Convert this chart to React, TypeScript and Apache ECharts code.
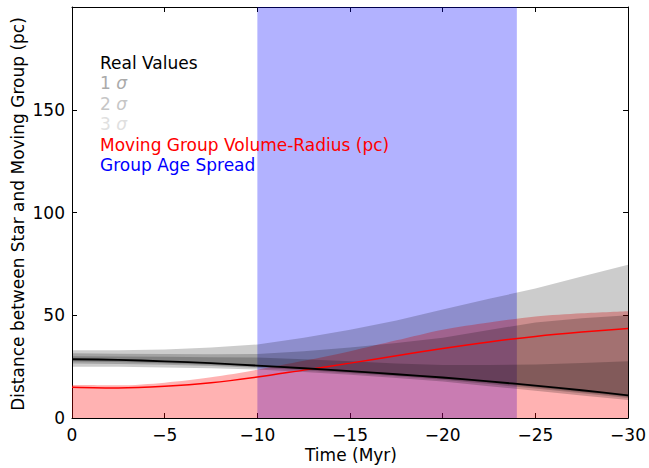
import React, { useEffect, useRef } from "react";
import * as echarts from "echarts";

const timeMyr = [0, -2.5, -5, -7.5, -10, -12.5, -15, -17.5, -20, -22.5, -25, -27.5, -30];
const realDistance = [28.6, 28.3, 27.6, 26.7, 25.5, 24.2, 22.8, 21.3, 19.7, 17.8, 15.8, 13.5, 11];
const sigma1Lower = [27.5, 27.2, 26.7, 25.9, 24.9, 23.7, 22.3, 20.8, 19.1, 17.1, 15, 12.7, 10.3];
const sigma1Upper = [30, 29.9, 29.8, 29.6, 29.4, 28.6, 27.6, 26.5, 25.8, 25.8, 26, 26.8, 27.6];
const sigma2Lower = [26.5, 26.3, 25.9, 25.3, 24.4, 23.2, 21.8, 20.3, 18.6, 16.5, 14.3, 12, 9.7];
const sigma2Upper = [31.5, 31.3, 31.2, 31, 31.2, 32.5, 34.3, 36.5, 39, 42.8, 46.5, 48.5, 50];
const sigma3Lower = [25, 24.9, 24.6, 24.2, 23.6, 22.4, 21, 19.5, 17.8, 15.5, 13.2, 11, 8.8];
const sigma3Upper = [33, 33, 33.3, 34.3, 35.8, 39, 43, 47.5, 52.8, 58, 63, 68.8, 74.6];
const groupRadius = [15, 14.6, 15.4, 17.1, 19.9, 23.3, 26.7, 30.3, 33.8, 37, 39.7, 41.8, 43.5];
const radiusFillTop = [16, 15.9, 17.2, 19.8, 23.5, 27.8, 32.5, 37.8, 43, 46.5, 49.4, 51, 52];
const ageSpread = [-10, -24];
const legendLines = ["Real Values", "1", "2", "3", "Moving Group Volume-Radius (pc)", "Group Age Spread"];

const FONT = "DejaVu Sans";

function pairs(ys: number[]) {
  return timeMyr.map((t, i) => [t, ys[i]]);
}

function bandSeries(name: string, lo: number[], up: number[]) {
  return {
    type: "custom",
    name,
    silent: true,
    clip: true,
    z: 1,
    data: [[timeMyr[0], up[0]]],
    renderItem: (_params: any, api: any) => {
      const pts: number[][] = [];
      for (let i = 0; i < timeMyr.length; i++) pts.push(api.coord([timeMyr[i], up[i]]));
      for (let i = timeMyr.length - 1; i >= 0; i--) pts.push(api.coord([timeMyr[i], lo[i]]));
      return {
        type: "polygon",
        shape: { points: pts },
        style: { fill: "rgba(0,0,0,0.2)" },
      };
    },
  };
}

export default function App() {
  const ref = useRef<HTMLDivElement>(null);
  useEffect(() => {
    if (!ref.current) return;
    const chart = echarts.init(ref.current, undefined, { renderer: "svg" });
    const axisCommon = {
      axisLine: { show: true, onZero: false, lineStyle: { color: "#000", width: 1 } },
      axisTick: { show: true, inside: true, length: 5, lineStyle: { color: "#000" } },
      splitLine: { show: false },
    };
    const labelStyle = { color: "#000", fontFamily: FONT, fontSize: 17 };
    const sigmaColors = ["#aaaaaa", "#c6c6c6", "#e0e0e0"];
    const legendY = [64, 84.5, 105, 125.5, 146, 166.5];
    const legendColors = ["#000000", sigmaColors[0], sigmaColors[1], sigmaColors[2], "#ff0000", "#0000ff"];
    const legendGraphics = legendLines.map((txt, i) => {
      const isSigma = i >= 1 && i <= 3;
      return {
        type: "text",
        left: 100,
        top: legendY[i] - 10,
        style: isSigma
          ? {
              text: "{a|" + txt + " }{b|σ}",
              rich: {
                a: { fill: legendColors[i], fontFamily: FONT, fontSize: 17 },
                b: { fill: legendColors[i], fontFamily: FONT, fontSize: 17, fontStyle: "italic" },
              },
              fill: legendColors[i],
              font: "17px " + FONT,
            }
          : { text: txt, fill: legendColors[i], font: "17px " + FONT },
        z: 10,
      };
    });
    const option = {
      animation: false,
      backgroundColor: "#fff",
      grid: { left: 72, right: 19, top: 7, bottom: 50 },
      xAxis: [
        {
          type: "value",
          min: -30,
          max: 0,
          interval: 5,
          inverse: true,
          position: "bottom",
          ...axisCommon,
          axisLabel: {
            ...labelStyle,
            margin: 8,
            formatter: (v: number) => (v === 0 ? "0" : "\u2212" + Math.abs(v)),
          },
        },
        {
          type: "value",
          min: -30,
          max: 0,
          interval: 5,
          inverse: true,
          position: "top",
          ...axisCommon,
          axisLabel: { show: false },
        },
      ],
      yAxis: [
        {
          type: "value",
          min: 0,
          max: 200,
          interval: 50,
          position: "left",
          ...axisCommon,
          axisLabel: {
            ...labelStyle,
            margin: 7,
            formatter: (v: number) => (v === 200 ? "" : String(v)),
          },
        },
        {
          type: "value",
          min: 0,
          max: 200,
          interval: 50,
          position: "right",
          ...axisCommon,
          axisLabel: { show: false },
        },
      ],
      series: [
        {
          type: "line",
          name: "radius-fill",
          data: pairs(radiusFillTop),
          symbol: "none",
          smooth: 0.3,
          silent: true,
          z: 1,
          lineStyle: { width: 0, opacity: 0 },
          areaStyle: { color: "rgba(255,0,0,0.3)", opacity: 1 },
        },
        bandSeries("3 sigma", sigma3Lower, sigma3Upper),
        bandSeries("2 sigma", sigma2Lower, sigma2Upper),
        bandSeries("1 sigma", sigma1Lower, sigma1Upper),
        {
          type: "line",
          name: "age-spread",
          data: [],
          silent: true,
          z: 2,
          markArea: {
            silent: true,
            itemStyle: { color: "rgba(0,0,255,0.3)", opacity: 1 },
            data: [[{ xAxis: ageSpread[0] }, { xAxis: ageSpread[1] }]],
          },
        },
        {
          type: "line",
          name: "Moving Group Volume-Radius (pc)",
          data: pairs(groupRadius),
          symbol: "none",
          smooth: 0.3,
          z: 3,
          lineStyle: { color: "#ff0000", width: 1.5 },
        },
        {
          type: "line",
          name: "Real Values",
          data: pairs(realDistance),
          symbol: "none",
          smooth: 0.3,
          z: 3,
          lineStyle: { color: "#000000", width: 1.8 },
        },
      ],
      graphic: [
        {
          type: "text",
          x: 351,
          y: 455,
          style: {
            text: "Time (Myr)",
            fill: "#000",
            font: "17px " + FONT,
            textAlign: "center",
            textVerticalAlign: "middle",
          },
        },
        {
          type: "text",
          x: 18,
          y: 214,
          rotation: Math.PI / 2,
          style: {
            text: "Distance between Star and Moving Group (pc)",
            fill: "#000",
            font: "17px " + FONT,
            textAlign: "center",
            textVerticalAlign: "middle",
          },
        },
        ...legendGraphics,
      ],
    };
    chart.setOption(option as any);
    return () => chart.dispose();
  }, []);
  return (
    <div
      ref={ref}
      style={{ position: "fixed", left: 0, top: 0, width: 649, height: 468, background: "#fff" }}
    />
  );
}
